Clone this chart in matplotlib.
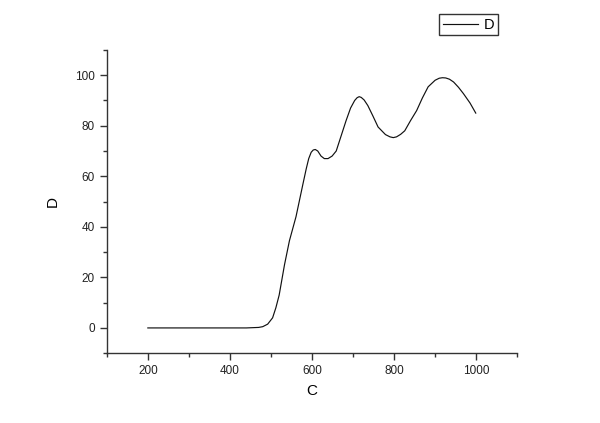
import matplotlib
matplotlib.use("Agg")
import matplotlib.pyplot as plt
from matplotlib.ticker import MultipleLocator

plt.rcParams['font.family'] = ['Liberation Sans', 'DejaVu Sans']

# values
c_vals = [200, 250, 300, 350, 400, 440, 470, 480, 492, 504, 512, 520, 533,
          545, 561, 578, 586, 592, 598, 603, 608, 614, 622, 630, 639, 649,
          659, 671, 683, 694, 704, 710, 715, 720, 727, 736, 748, 761, 779,
          790, 798, 806, 816, 826, 840, 855, 869, 883, 900, 910, 918, 926,
          935, 945, 957, 969, 985, 999]
d_vals = [0, 0, 0, 0, 0, 0, 0.2, 0.5, 1.5, 4, 8, 13, 25,
          34.5, 44, 57, 63, 67, 69.5, 70.4, 70.6, 70, 68, 67, 67, 68,
          70, 76, 82, 87, 90, 91.1, 91.5, 91.2, 90.2, 88, 84, 79.5, 76.5,
          75.6, 75.3, 75.6, 76.6, 78, 82, 86, 91, 95.4, 98, 98.8, 99, 98.9,
          98.4, 97.3, 95.2, 92.7, 89, 85]

fig = plt.figure(figsize=(6, 4.23), dpi=100)
ax = fig.add_axes([0.178, 0.165, 0.684, 0.717])

ax.plot(c_vals, d_vals, color='#111111', lw=0.85, label='D')

ax.set_xlim(100, 1100)
ax.set_ylim(-10, 110)
ax.xaxis.set_major_locator(MultipleLocator(200))
ax.xaxis.set_minor_locator(MultipleLocator(100))
ax.yaxis.set_major_locator(MultipleLocator(20))
ax.yaxis.set_minor_locator(MultipleLocator(10))

for s in ['top', 'right']:
    ax.spines[s].set_visible(False)
for s in ['left', 'bottom']:
    ax.spines[s].set_color('#333333')
    ax.spines[s].set_linewidth(1.0)

ax.tick_params(which='major', direction='out', length=5, width=1,
               color='#333333', labelsize=8.5, labelcolor='#222222')
ax.tick_params(which='minor', direction='out', length=3, width=1,
               color='#333333')

ax.set_xlabel('C', fontsize=11, labelpad=5)
ax.set_ylabel('D', fontsize=11, labelpad=11)

leg = ax.legend(loc='upper left', bbox_to_anchor=(0.732, 0.967),
                bbox_transform=fig.transFigure, frameon=True, fancybox=False,
                fontsize=10.5, handlelength=2.4, handletextpad=0.4,
                borderpad=0.25, borderaxespad=0)
leg.get_frame().set_edgecolor('black')
leg.get_frame().set_linewidth(1.0)

fig.savefig('out.png', dpi=100)
